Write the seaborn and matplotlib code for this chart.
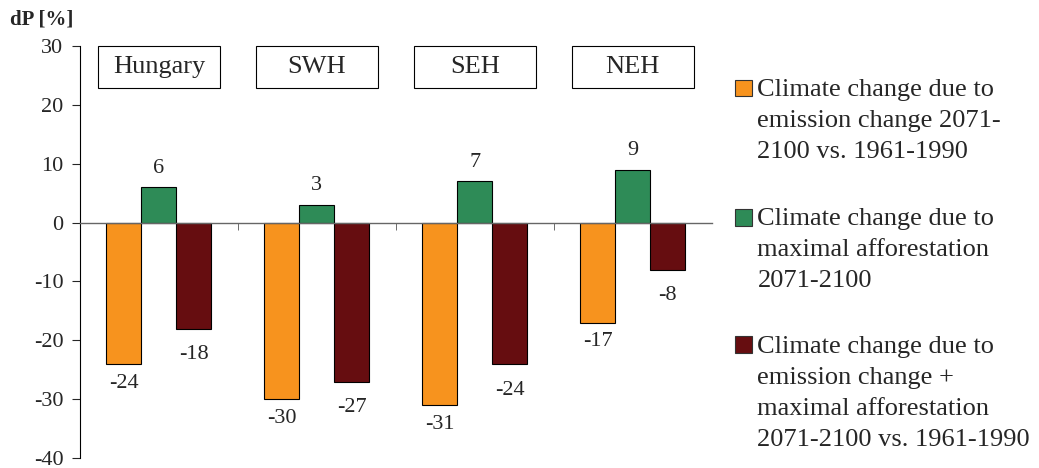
import pandas as pd
import matplotlib.pyplot as plt
import matplotlib.transforms as mtransforms
from matplotlib.patches import Rectangle
import seaborn as sns

# =========================
# DATA
# =========================
regions = ["Hungary", "SWH", "SEH", "NEH"]
series = [
    "Climate change due to\nemission change 2071-\n2100 vs. 1961-1990",
    "Climate change due to\nmaximal afforestation\n2071-2100",
    "Climate change due to\nemission change +\nmaximal afforestation\n2071-2100 vs. 1961-1990",
]
emission = [-24, -30, -31, -17]
afforestation = [6, 3, 7, 9]
combined = [-18, -27, -24, -8]
colors = ["#F7931E", "#2E8B57", "#660D10"]
yticks = [-40, -30, -20, -10, 0, 10, 20, 30]

df = pd.DataFrame({
    "Region": regions * 3,
    "Series": [series[0]] * 4 + [series[1]] * 4 + [series[2]] * 4,
    "dP": emission + afforestation + combined,
})

# =========================
# PLOT
# =========================
sns.set_style("white")
plt.rcParams["font.family"] = ["Liberation Serif", "DejaVu Serif"]
plt.rcParams["axes.unicode_minus"] = False

fig = plt.figure(figsize=(10.39, 4.68), dpi=100)
ax = fig.add_axes([0.077, 0.021, 0.608, 0.881])

sns.barplot(
    data=df, x="Region", y="dP", hue="Series",
    palette=colors, width=0.665, edgecolor="black", linewidth=0.8,
    ax=ax, saturation=1, legend=False,
)

ax.set_ylim(-40, 30)
ax.set_xlim(-0.5, 3.5)
ax.set_yticks(yticks)
ax.tick_params(axis="y", labelsize=16, direction="out", length=6, width=0.8,
               left=True, pad=6)
ax.set_xlabel("")
ax.set_ylabel("")
ax.set_xticks([])
ax.set_xticks([0.5, 1.5, 2.5], minor=True)
ax.tick_params(axis="x", which="minor", direction="out", length=5,
               color="#555555", bottom=True)
ax.spines["top"].set_visible(False)
ax.spines["right"].set_visible(False)
ax.spines["left"].set_color("black")
ax.spines["left"].set_linewidth(0.8)
ax.spines["bottom"].set_position(("data", 0))
ax.spines["bottom"].set_color("#666666")
ax.spines["bottom"].set_linewidth(1.0)

# value labels (padding differs a bit per series, like the original)
for cont, pad in zip(ax.containers, [7, 7, 12]):
    ax.bar_label(cont, fontsize=16, padding=pad)

# region boxes at the top
trans = mtransforms.blended_transform_factory(ax.transData, ax.transAxes)
for i, name in enumerate(regions):
    ax.add_patch(Rectangle((i - 0.385, 0.898), 0.77, 0.102, transform=trans,
                           facecolor="white", edgecolor="black", linewidth=0.8,
                           clip_on=False))
    ax.text(i, 0.949, name, transform=trans, ha="center", va="center",
            fontsize=19)

fig.text(0.01, 0.958, "dP [%]", fontsize=15, fontweight="bold", va="center")

# legend: square aligned with the first line of each entry
legend_rows = [0.812, 0.536, 0.263]
for label, col, row in zip(series, colors, legend_rows):
    fig.add_artist(Rectangle((0.7075, row - 0.018), 0.0165, 0.036,
                             transform=fig.transFigure, facecolor=col,
                             edgecolor="#333333", linewidth=0.8))
    fig.text(0.729, row + 0.019, label, fontsize=19, va="top", ha="left",
             linespacing=1.52)

plt.savefig("out.png", dpi=100)
plt.close()
